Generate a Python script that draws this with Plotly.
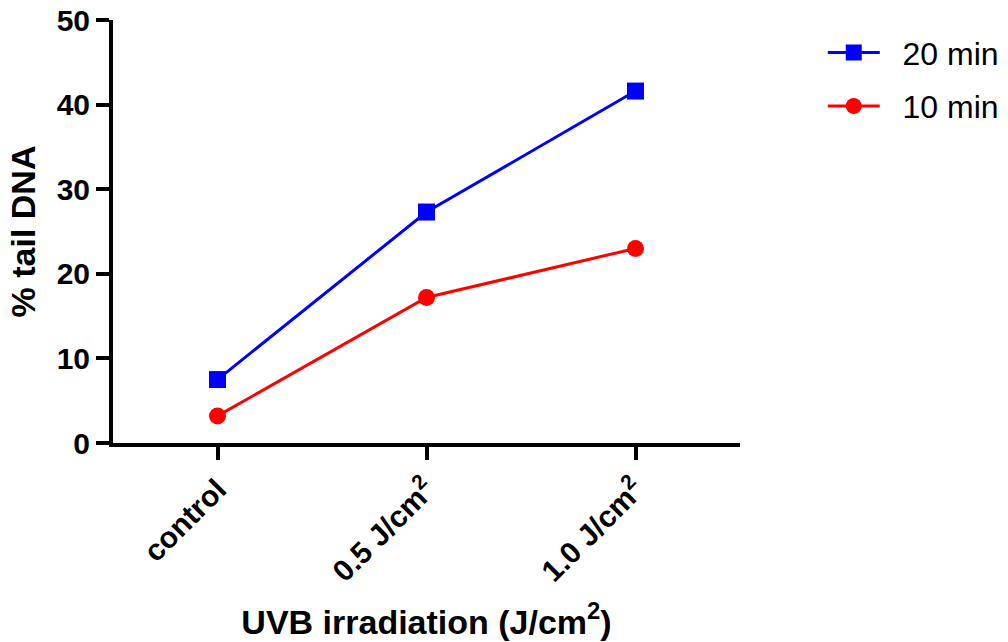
import plotly.graph_objects as go

categories = ["control", "0.5 J/cm<sup>2</sup>", "1.0 J/cm<sup>2</sup>"]
series_20min = [7.5, 27.3, 41.6]
series_10min = [3.2, 17.2, 23.0]
y_ticks = [0, 10, 20, 30, 40, 50]

FONT = "Arial, Liberation Sans, sans-serif"
x_idx = list(range(len(categories)))
NB = "\u00a0\u00a0"

fig = go.Figure()
fig.add_trace(go.Scatter(
    x=x_idx, y=series_20min, name=NB + "20 min", mode="lines+markers",
    line=dict(color="#0000ff", width=3),
    marker=dict(symbol="square", size=17, color="#0000ff"),
    legendgroup="a",
))
fig.add_trace(go.Scatter(
    x=x_idx, y=series_10min, name=NB + "10 min", mode="lines+markers",
    line=dict(color="#ff0000", width=3),
    marker=dict(symbol="circle", size=17, color="#ff0000"),
    legendgroup="b",
))

fig.update_layout(
    width=1008, height=642,
    margin=dict(l=113, r=268, t=20, b=199, autoexpand=False),
    paper_bgcolor="white", plot_bgcolor="white",
    font=dict(family=FONT, color="black"),
    legend=dict(
        x=1.132, y=0.988, xanchor="left", yanchor="top",
        font=dict(size=32, family=FONT, color="black"),
        traceorder="grouped", tracegroupgap=9,
        itemwidth=52,
        bgcolor="rgba(0,0,0,0)",
    ),
    showlegend=True,
)

fig.update_xaxes(
    range=[-0.5, 2.5],
    tickmode="array", tickvals=x_idx,
    ticktext=["<b>" + c + "</b>" for c in categories],
    tickangle=-45,
    tickfont=dict(size=30, family=FONT, color="black"),
    showline=True, linewidth=4, linecolor="black",
    ticks="outside", ticklen=13, tickwidth=4, tickcolor="black",
    showgrid=False, zeroline=False, automargin=False,
    title=dict(text="<b>UVB irradiation (J/cm<sup>2</sup>)</b>",
               font=dict(size=34, family=FONT, color="black"), standoff=24),
)
fig.update_yaxes(
    range=[0, 50],
    tickmode="array", tickvals=y_ticks,
    ticktext=["<b>%d</b>" % v for v in y_ticks],
    tickfont=dict(size=30, family=FONT, color="black"),
    showline=True, linewidth=4, linecolor="black",
    ticks="outside", ticklen=13, tickwidth=4, tickcolor="black",
    showgrid=False, zeroline=False, automargin=False,
    title=dict(text="<b>% tail DNA</b>",
               font=dict(size=34, family=FONT, color="black"), standoff=12),
)

fig.write_html("out.html")
